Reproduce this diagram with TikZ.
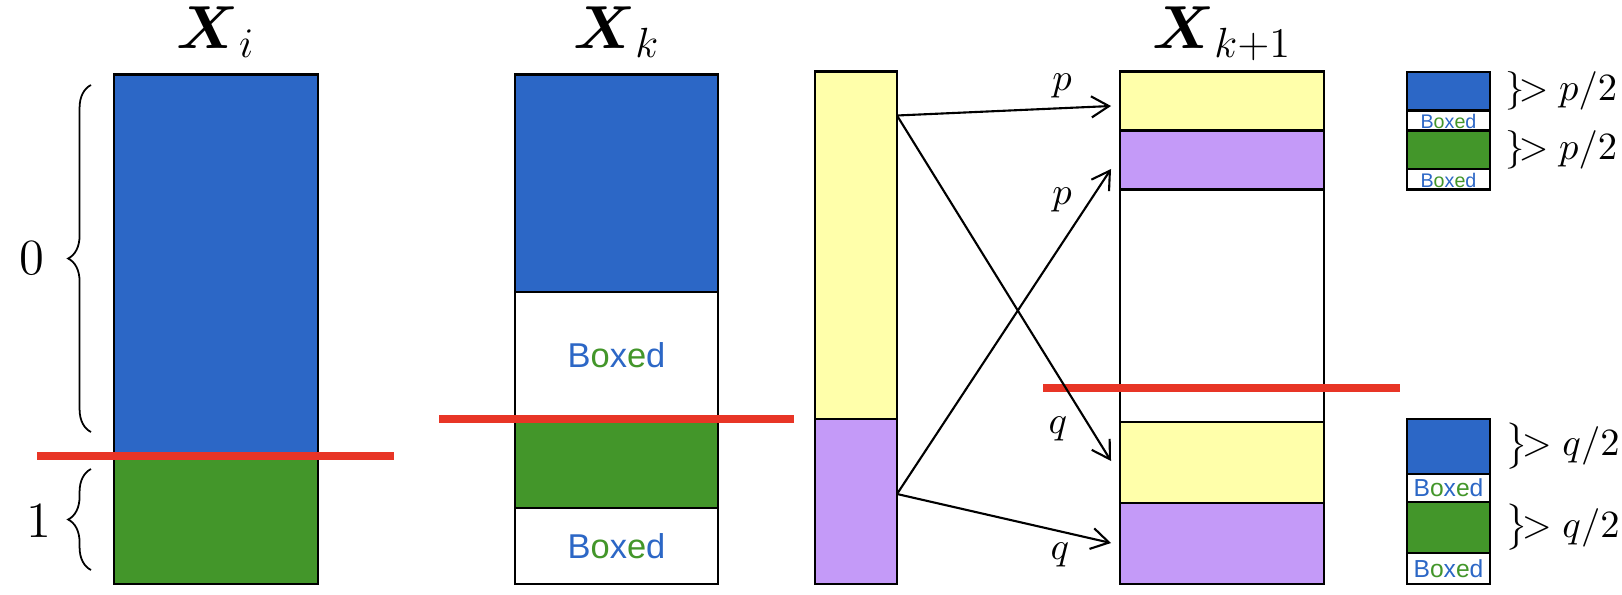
\documentclass[tikz,border=0pt]{standalone}
\usepackage{amsmath,amssymb}
\usepackage{fontspec}
\usepackage{xcolor}
\usepackage{tikz}
\usetikzlibrary{arrows.meta,decorations.pathreplacing}
\newfontfamily\boxfont{Liberation Sans}
\definecolor{cellblue}{RGB}{44,103,198}
\definecolor{cellgreen}{RGB}{67,150,42}
\definecolor{cellyellow}{RGB}{255,255,170}
\definecolor{cellpurple}{RGB}{196,154,248}
\definecolor{cutred}{RGB}{232,53,38}
\newcommand{\boxedtxt}{{\boxfont\textcolor{cellblue}{B}\textcolor{cellgreen}{o}\textcolor{cellblue}{x}\textcolor{cellgreen}{e}\textcolor{cellblue}{d}}}
\tikzset{
  cell/.style={draw=black,line width=0.8pt},
  cut/.style={draw=cutred,line width=2pt},
  flow/.style={-{Straight Barb[length=5pt,width=6pt]},line width=0.6pt},
  title/.style={font=\LARGE,anchor=base},
  digit/.style={font=\fontsize{15}{18}\selectfont},
  lbl/.style={font=\fontsize{11}{13}\selectfont},
  bxtext/.style={font=\fontsize{9.8}{12}\selectfont},
  tinytext/.style={font=\fontsize{5.6}{7}\selectfont,inner sep=0pt},
  smalltext/.style={font=\fontsize{7}{8}\selectfont,inner sep=0pt},
  brc/.style={decorate,decoration={brace,amplitude=6.5pt},line width=0.5pt},
  bound/.style={font=\fontsize{11}{13}\selectfont,anchor=west,inner sep=0pt},
}

\begin{document}
\begin{tikzpicture}[x=0.01cm,y=-0.01cm]
  \useasboundingbox (0,0) rectangle (1622,594);
  % X_i
  \draw[cell,fill=cellblue] (114,74.5) rectangle (318,456);
  \draw[cell,fill=cellgreen] (114,456) rectangle (318,584);
  \node[title] (ti) at (216,48) {$\boldsymbol{X}_{i}$};
  \draw[brc] (91,432) -- (91,85);
  \draw[brc] (91,570) -- (91,469);
  \node[digit] (zero) at (32,258) {$0$};
  \node[digit] (one) at (39,521) {$1$};
  \draw[cut] (37,456) -- (394,456);
  % X_k
  \draw[cell,fill=cellblue] (515,74.5) rectangle (718,292);
  \draw[cell,fill=white] (515,292) rectangle (718,419);
  \draw[cell,fill=cellgreen] (515,419) rectangle (718,508);
  \draw[cell,fill=white] (515,508) rectangle (718,584);
  \node[bxtext] (bk1) at (616.5,355.5) {\boxedtxt};
  \node[bxtext] (bk2) at (616.5,546) {\boxedtxt};
  \node[title] (tk) at (616.5,48) {$\boldsymbol{X}_{k}$};
  \draw[cut] (439,419) -- (794,419);
  % middle column
  \draw[cell,fill=cellyellow] (815,71.5) rectangle (897,419);
  \draw[cell,fill=cellpurple] (815,419) rectangle (897,584);
  % X_{k+1}
  \draw[cell,fill=cellyellow] (1120,71.5) rectangle (1324,130.5);
  \draw[cell,fill=cellpurple] (1120,130.5) rectangle (1324,189.5);
  \draw[cell,fill=white] (1120,189.5) rectangle (1324,422);
  \draw[cell,fill=cellyellow] (1120,422) rectangle (1324,503);
  \draw[cell,fill=cellpurple] (1120,503) rectangle (1324,584);
  \node[title] (tk1) at (1222,48) {$\boldsymbol{X}_{k+1}$};
  \draw[cut] (1043,388) -- (1400,388);
  % arrows
  \coordinate (ysrc) at (897,115.5);
  \coordinate (psrc) at (897,494);
  \coordinate (yy) at (1111,106);
  \coordinate (yp) at (1111,169);
  \coordinate (py) at (1111,461);
  \coordinate (pp) at (1111,543);
  \draw[flow] (ysrc) -- (yy);
  \draw[flow] (ysrc) -- (py);
  \draw[flow] (psrc) -- (yp);
  \draw[flow] (psrc) -- (pp);
  \node[lbl] (lp1) at (1062,86) {$p$};
  \node[lbl] (lp2) at (1062,200) {$p$};
  \node[lbl] (lq1) at (1058,429) {$q$};
  \node[lbl] (lq2) at (1060,555) {$q$};
  % small boxes, top
  \draw[cell,fill=cellblue] (1407,72) rectangle (1490,110.7);
  \draw[cell,fill=white] (1407,110.7) rectangle (1490,130.5);
  \draw[cell,fill=cellgreen] (1407,130.5) rectangle (1490,169);
  \draw[cell,fill=white] (1407,169) rectangle (1490,189.5);
  \node[tinytext] (bt1) at (1448.5,121) {\boxedtxt};
  \node[tinytext] (bt2) at (1448.5,180) {\boxedtxt};
  \node[bound] (gp1) at (1505,91) {$\}\!{>}\;p/2$};
  \node[bound] (gp2) at (1505,150) {$\}\!{>}\;p/2$};
  % small boxes, bottom
  \draw[cell,fill=cellblue] (1407,419) rectangle (1490,474);
  \draw[cell,fill=white] (1407,474) rectangle (1490,502);
  \draw[cell,fill=cellgreen] (1407,502) rectangle (1490,553);
  \draw[cell,fill=white] (1407,553) rectangle (1490,584);
  \node[smalltext] (bb1) at (1448.5,488) {\boxedtxt};
  \node[smalltext] (bb2) at (1448.5,568.5) {\boxedtxt};
  \node[bound] (gq1) at (1505,446) {$\big\}\!{>}\;q/2$};
  \node[bound] (gq2) at (1505,527.5) {$\big\}\!{>}\;q/2$};
\end{tikzpicture}
\end{document}
